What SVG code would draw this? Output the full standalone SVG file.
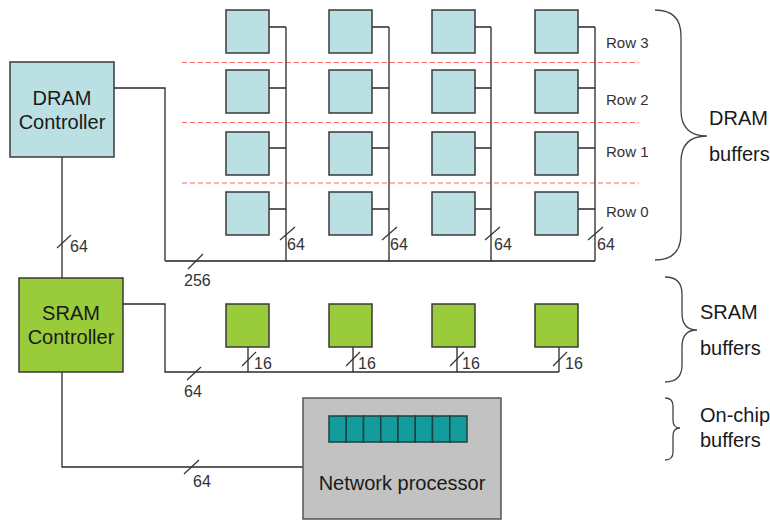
<svg xmlns="http://www.w3.org/2000/svg" width="770" height="521" viewBox="0 0 770 521">
<style>
text{font-family:"Liberation Sans",Arial,sans-serif;fill:#1a1a1a}
.big{font-size:20px}
.num{font-size:16px;fill:#333}
.row{font-size:15px;fill:#333}
.dram{fill:#bae0e3;stroke:#3a3a3a;stroke-width:1.5}
.sram{fill:#99cb3b;stroke:#3a3a3a;stroke-width:1.5}
.cell{fill:#149b9b;stroke:#1d4040;stroke-width:1.5}
.w{fill:none;stroke:#2a2a2a;stroke-width:1.3}
.bus{fill:none;stroke:#555;stroke-width:1.8}
.sl{stroke:#333;stroke-width:1.2}
.dash{stroke:#ff6a6a;stroke-width:1.2;stroke-dasharray:5 3}
.br{fill:none;stroke:#444;stroke-width:1.3}
</style>
<rect width="770" height="521" fill="#fff"/>
<g id="separators">
<line class="dash" x1="182" y1="62.5" x2="639" y2="62.5"/>
<line class="dash" x1="182" y1="122.5" x2="639" y2="122.5"/>
<line class="dash" x1="182" y1="183" x2="639" y2="183"/>
</g>
<g id="connectors">
<path class="w" d="M114,88 H165 V261"/>
<path class="bus" d="M165,261 H595"/>
<path class="w" d="M269,27 H286 M269,88 H286 M269,148 H286 M269,209 H286 M286,27 V261"/>
<path class="w" d="M372,27 H389 M372,88 H389 M372,148 H389 M372,209 H389 M389,27 V261"/>
<path class="w" d="M475,27 H491 M475,88 H491 M475,148 H491 M475,209 H491 M491,27 V261"/>
<path class="w" d="M578,27 H595 M578,88 H595 M578,148 H595 M578,209 H595 M595,27 V261"/>
<path class="w" d="M62,157 V278"/>
<path class="w" d="M123,304 H165 V372 H559"/>
<path class="w" d="M248,347 V372 M353,347 V372 M457,347 V372 M559,347 V372"/>
<path class="w" d="M62,372 V467 H303"/>
<line class="sl" x1="280" y1="240" x2="295" y2="227"/>
<line class="sl" x1="382" y1="240" x2="397" y2="227"/>
<line class="sl" x1="485" y1="240" x2="500" y2="227"/>
<line class="sl" x1="588" y1="240" x2="603" y2="227"/>
<line class="sl" x1="188" y1="269" x2="203" y2="254"/>
<line class="sl" x1="57" y1="248" x2="71" y2="235"/>
<line class="sl" x1="187" y1="380" x2="201" y2="367"/>
<line class="sl" x1="242" y1="366" x2="256" y2="352"/>
<line class="sl" x1="346" y1="366" x2="360" y2="352"/>
<line class="sl" x1="450" y1="366" x2="464" y2="352"/>
<line class="sl" x1="553" y1="366" x2="567" y2="352"/>
<line class="sl" x1="184" y1="474" x2="199" y2="460"/>
<text class="num" x="287" y="250">64</text>
<text class="num" x="390" y="250">64</text>
<text class="num" x="494" y="250">64</text>
<text class="num" x="597" y="250">64</text>
<text class="num" x="184" y="286">256</text>
<text class="num" x="70" y="252">64</text>
<text class="num" x="184" y="397">64</text>
<text class="num" x="254" y="369">16</text>
<text class="num" x="358" y="369">16</text>
<text class="num" x="462" y="369">16</text>
<text class="num" x="565" y="369">16</text>
<text class="num" x="193" y="487">64</text>
</g>
<g id="dram-controller">
<rect class="dram" x="10" y="62" width="104" height="95"/>
<text class="big" x="62" y="105" text-anchor="middle">DRAM</text>
<text class="big" x="62" y="129" text-anchor="middle">Controller</text>
</g>
<g id="sram-controller">
<rect class="sram" x="19" y="278" width="104" height="94"/>
<text class="big" x="71" y="320" text-anchor="middle">SRAM</text>
<text class="big" x="71" y="344" text-anchor="middle">Controller</text>
</g>
<g id="dram-buffers">
<rect class="dram" x="226" y="10" width="43" height="43"/>
<rect class="dram" x="329" y="10" width="43" height="43"/>
<rect class="dram" x="432" y="10" width="43" height="43"/>
<rect class="dram" x="535" y="10" width="43" height="43"/>
<rect class="dram" x="226" y="70" width="43" height="43"/>
<rect class="dram" x="329" y="70" width="43" height="43"/>
<rect class="dram" x="432" y="70" width="43" height="43"/>
<rect class="dram" x="535" y="70" width="43" height="43"/>
<rect class="dram" x="226" y="132" width="43" height="43"/>
<rect class="dram" x="329" y="132" width="43" height="43"/>
<rect class="dram" x="432" y="132" width="43" height="43"/>
<rect class="dram" x="535" y="132" width="43" height="43"/>
<rect class="dram" x="226" y="192" width="43" height="43"/>
<rect class="dram" x="329" y="192" width="43" height="43"/>
<rect class="dram" x="432" y="192" width="43" height="43"/>
<rect class="dram" x="535" y="192" width="43" height="43"/>
<text class="row" x="606" y="48">Row 3</text>
<text class="row" x="606" y="105">Row 2</text>
<text class="row" x="606" y="157">Row 1</text>
<text class="row" x="606" y="217">Row 0</text>
</g>
<g id="sram-buffers">
<rect class="sram" x="226" y="304" width="43" height="43"/>
<rect class="sram" x="329" y="304" width="43" height="43"/>
<rect class="sram" x="432" y="304" width="43" height="43"/>
<rect class="sram" x="535" y="304" width="43" height="43"/>
</g>
<g id="network-processor">
<rect x="303" y="398" width="198" height="121" fill="#c2c2c2" stroke="#555" stroke-width="1.5"/>
<rect class="cell" x="329" y="416" width="17.25" height="26"/>
<rect class="cell" x="346.25" y="416" width="17.25" height="26"/>
<rect class="cell" x="363.5" y="416" width="17.25" height="26"/>
<rect class="cell" x="380.75" y="416" width="17.25" height="26"/>
<rect class="cell" x="398" y="416" width="17.25" height="26"/>
<rect class="cell" x="415.25" y="416" width="17.25" height="26"/>
<rect class="cell" x="432.5" y="416" width="17.25" height="26"/>
<rect class="cell" x="449.75" y="416" width="17.25" height="26"/>
<text class="big" x="402" y="490" text-anchor="middle">Network processor</text>
</g>
<g id="braces">
<path class="br" d="M655,10 Q681,10 681,36 L681,110 Q681,136 707,136 Q681,136 681,162 L681,234 Q681,260 655,260"/>
<text class="big" x="709" y="125">DRAM</text>
<text class="big" x="709" y="161">buffers</text>
<path class="br" d="M665,277 Q682,277 682,294 L682,313 Q682,330 697,330 Q682,330 682,347 L682,365 Q682,382 665,382"/>
<text class="big" x="700" y="319">SRAM</text>
<text class="big" x="700" y="355">buffers</text>
<path class="br" d="M665,398 Q673,398 673,406 L673,420 Q673,428 680,428 Q673,428 673,436 L673,452 Q673,460 665,460"/>
<text class="big" x="700" y="422">On-chip</text>
<text class="big" x="700" y="447">buffers</text>
</g>
</svg>
